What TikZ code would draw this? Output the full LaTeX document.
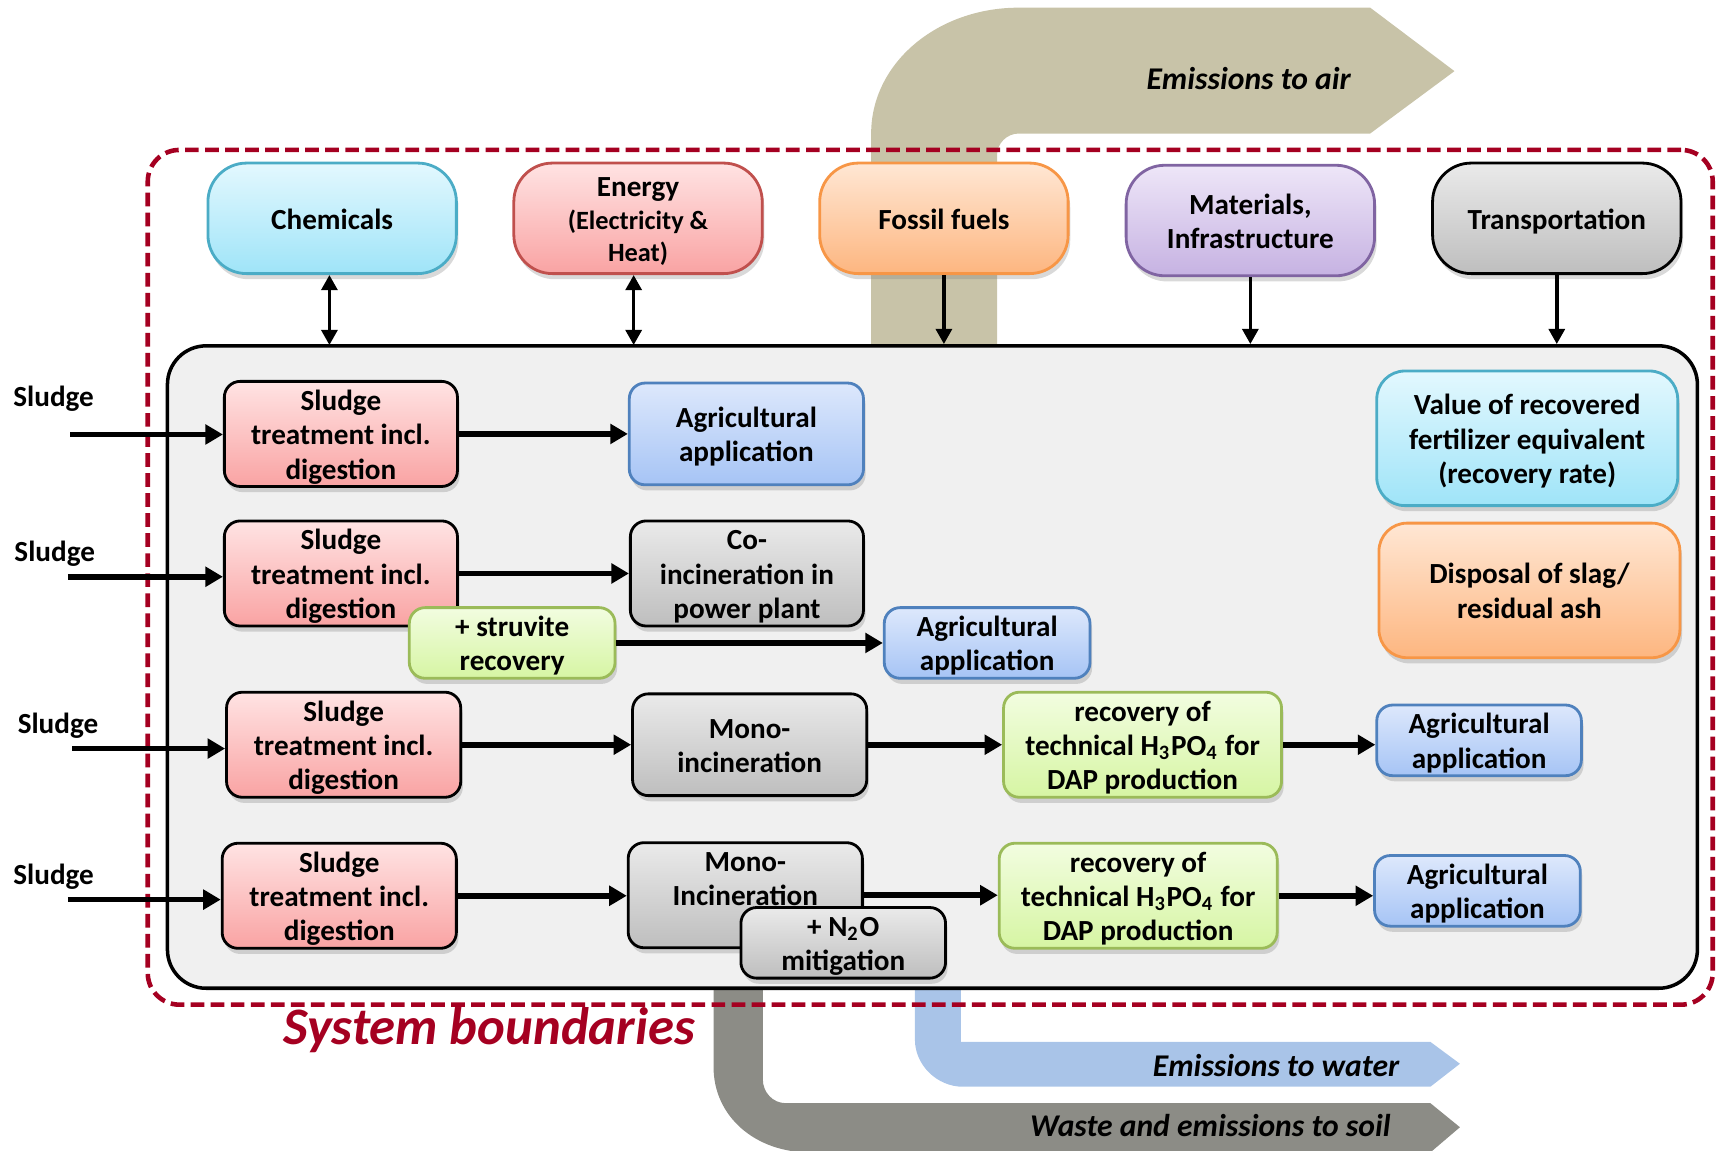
\documentclass[tikz,border=0pt]{standalone}
\usepackage{fontspec}
\setmainfont{Carlito}
\usetikzlibrary{arrows.meta,shadows}

%% line colours
\definecolor{bordred}{HTML}{A50021}
\definecolor{cyanline}{HTML}{4BACC6}
\definecolor{redline}{HTML}{C0504D}
\definecolor{orangeline}{HTML}{F79646}
\definecolor{purpleline}{HTML}{8064A2}
\definecolor{blueline}{HTML}{4F81BD}
\definecolor{greenline}{HTML}{9BBB59}
%% band colours
\definecolor{airtan}{HTML}{C8C3A8}
\definecolor{waterblue}{HTML}{A9C4E8}
\definecolor{soilgray}{HTML}{8C8C86}
%% box fills (top / bottom)
\definecolor{cyantop}{HTML}{E3F8FE}
\definecolor{cyanbot}{HTML}{9FE4F8}
\definecolor{pinktop}{HTML}{FFE3E3}
\definecolor{pinkbot}{HTML}{F9A3A3}
\definecolor{orangetop}{HTML}{FFE7D4}
\definecolor{orangebot}{HTML}{FDB680}
\definecolor{purpletop}{HTML}{EEE6F8}
\definecolor{purplebot}{HTML}{C6B2E2}
\definecolor{graytop}{HTML}{EAEAEA}
\definecolor{graybot}{HTML}{BEBEBE}
\definecolor{bluetop}{HTML}{DDE8FC}
\definecolor{bluebot}{HTML}{A6C4F5}
\definecolor{greentop}{HTML}{F2FDE0}
\definecolor{greenbot}{HTML}{D6F5A3}

\begin{document}
\begin{tikzpicture}[x=0.3114pt, y=-0.3114pt,
  font=\bfseries\fontsize{8.3}{9.8}\selectfont,
  wh/.style 2 args={minimum width=#1*0.3114pt, minimum height=#2*0.3114pt},
  nl/.style={text height=8.2pt+(#1-1)*9.8pt},
  procbox/.style={draw, line width=0.8pt, rounded corners=4.5pt, align=center, inner sep=0pt,
    text depth=2.1pt, drop shadow={opacity=0.3, shadow xshift=0.6pt, shadow yshift=-1.6pt}},
  capbox/.style={procbox, rounded corners=11pt, wh={227}{101}},
  cyanfill/.style={top color=cyantop, bottom color=cyanbot, draw=cyanline},
  pinkfill/.style={top color=pinktop, bottom color=pinkbot, draw=black},
  orangefill/.style={top color=orangetop, bottom color=orangebot, draw=orangeline},
  purplefill/.style={top color=purpletop, bottom color=purplebot, draw=purpleline},
  grayfill/.style={top color=graytop, bottom color=graybot, draw=black},
  bluefill/.style={top color=bluetop, bottom color=bluebot, draw=blueline},
  greenfill/.style={top color=greentop, bottom color=greenbot, draw=greenline},
  flow/.style={line width=1.6pt, -{Triangle[length=5pt, width=5.5pt]}},
  feed/.style={line width=1pt, -{Triangle[length=4.3pt, width=4.5pt]}},
  duo/.style={line width=1pt, {Triangle[length=4.3pt, width=4.5pt]}-{Triangle[length=4.3pt, width=4.5pt]}},
  bandtext/.style={font=\bfseries\itshape\fontsize{9}{11}\selectfont}]

  \useasboundingbox (0,0) rectangle (1568,1051);

  %% emission bands
  \fill[airtan] (796,320) -- (796,122) .. controls (796,58) and (856,7) .. (931,7)
    -- (1252,7) -- (1329,65) -- (1252,122) -- (931,122)
    .. controls (920,122) and (911,131) .. (911,142) -- (911,320) -- cycle;
  \fill[waterblue] (836,900) -- (836,950) .. controls (836,973) and (856,993) .. (880,993)
    -- (1307,993) -- (1334,972) -- (1307,952) -- (878,952) -- (878,900) -- cycle;
  \fill[soilgray] (652,900) -- (652,975) .. controls (652,1020) and (690,1053) .. (740,1053)
    -- (1307,1053) -- (1334,1030) -- (1307,1008) -- (718,1008)
    .. controls (706,1008) and (697,998) .. (697,986) -- (697,900) -- cycle;
  \node[bandtext] (air) at (1141,72) {Emissions to air};
  \node[bandtext] (water) at (1166,974) {Emissions to water};
  \node[bandtext] (soil) at (1106,1028) {Waste and emissions to soil};

  %% system boundaries
  \node[draw=bordred, line width=1.3pt, dash pattern=on 3.9pt off 1.8pt, rounded corners=9pt,
    wh={1430}{781}] (bound) at (850,527.5) {};
  \node[text=bordred, font=\bfseries\itshape\fontsize{15}{18}\selectfont] (boundlab) at (447,941)
    {System boundaries};
  \node[draw, fill=black!6, line width=1pt, rounded corners=11pt, wh={1398}{587}] (sys) at (852,609.5) {};

  %% inputs
  \node[capbox, cyanfill, nl=1] (chem) at (303.5,199.5) {Chemicals};
  \node[capbox, pinkfill, draw=redline, font=\bfseries\fontsize{8.3}{9.2}\selectfont,
    text height=26.6pt] (energy) at (583,199.5)
    {Energy\\{\fontsize{7.5}{9.2}\selectfont(Electricity \&}\\{\fontsize{7.5}{9.2}\selectfont Heat)}};
  \node[capbox, orangefill, nl=1] (fossil) at (862.5,199.5) {Fossil fuels};
  \node[capbox, purplefill, nl=2] (mater) at (1142.5,201.5) {Materials,\\Infrastructure};
  \node[capbox, grayfill, nl=1] (transp) at (1422.5,199.5) {Transportation};

  \draw[duo] (chem.south) ++(-2.5,0) -- ++(0,64);
  \draw[duo] (energy.south) ++(-4,0) -- ++(0,64);
  \draw[feed] (fossil.south) -- (fossil.south |- sys.north);
  \draw[feed] (mater.south) -- (mater.south |- sys.north);
  \draw[feed] (transp.south) -- (transp.south |- sys.north);

  %% row 1
  \node (lab1) at (49,364) {Sludge};
  \coordinate (in1) at (64,397);
  \node[procbox, pinkfill, nl=3, wh={213}{93}] (s1) at (311.5,396.5) {Sludge\\treatment incl.\\digestion};
  \node[procbox, bluefill, nl=2, wh={214}{93}] (a1) at (682,396.5) {Agricultural\\application};
  \draw[flow] (in1) -- (in1 -| s1.west);
  \draw[flow] (s1.east) -- (a1.west);

  %% row 2
  \node (lab2) at (50,506) {Sludge};
  \coordinate (in2) at (62,527);
  \node[procbox, pinkfill, nl=3, wh={213}{92}] (s2) at (311.5,524) {Sludge\\treatment incl.\\digestion};
  \node[procbox, grayfill, nl=3, wh={213}{92}] (c2) at (682.5,524) {Co-\\incineration in\\power plant};
  \node[procbox, greenfill, nl=2, wh={188}{61}] (st2) at (468,587.5) {+ struvite\\recovery};
  \node[procbox, bluefill, nl=2, wh={188}{61}] (a2) at (902,587.5) {Agricultural\\application};
  \draw[flow] (in2) -- (in2 -| s2.west);
  \draw[flow] (s2.east) -- (c2.west);
  \draw[flow] (st2.east) -- (a2.west);

  %% row 3
  \node (lab3) at (53,663) {Sludge};
  \coordinate (in3) at (66,684);
  \node[procbox, pinkfill, nl=3, wh={214}{93}] (s3) at (314,680.5) {Sludge\\treatment incl.\\digestion};
  \node[procbox, grayfill, nl=2, wh={214}{93}] (m3) at (685,680.5) {Mono-\\incineration};
  \node[procbox, greenfill, nl=3, wh={254}{93}] (r3) at (1044,680.5)
    {recovery of\\technical H\textsubscript{3}PO\textsubscript{4} for\\DAP production};
  \node[procbox, bluefill, nl=2, wh={187}{61}] (a3) at (1351.5,676.5) {Agricultural\\application};
  \draw[flow] (in3) -- (in3 -| s3.west);
  \draw[flow] (s3.east) -- (m3.west);
  \draw[flow] (m3.east) -- (r3.west);
  \draw[flow] (r3.east) -- (r3.east -| a3.west);

  %% row 4
  \node (lab4) at (49,801) {Sludge};
  \coordinate (in4) at (62,822);
  \node[procbox, pinkfill, nl=3, wh={214}{93}] (s4) at (310,818.5) {Sludge\\treatment incl.\\digestion};
  \node[procbox, grayfill, nl=3, wh={214}{92}] (m4) at (681,818) {Mono-\\Incineration\\\mbox{}};
  \node[procbox, grayfill, nl=2, wh={187}{61}] (n4) at (770.5,861.5) {+ N\textsubscript{2}O\\mitigation};
  \node[procbox, greenfill, nl=3, wh={254}{93}] (r4) at (1040,818.5)
    {recovery of\\technical H\textsubscript{3}PO\textsubscript{4} for\\DAP production};
  \node[procbox, bluefill, nl=2, wh={188}{62}] (a4) at (1350,814) {Agricultural\\application};
  \draw[flow] (in4) -- (in4 -| s4.west);
  \draw[flow] (s4.east) -- (s4.east -| m4.west);
  \draw[flow] (m4.east) -- (m4.east -| r4.west);
  \draw[flow] (r4.east) -- (r4.east -| a4.west);

  %% outcome boxes
  \node[procbox, cyanfill, nl=3, rounded corners=8pt, wh={275}{123}] (val) at (1395.5,400.5)
    {Value of recovered\\fertilizer equivalent\\(recovery rate)};
  \node[procbox, orangefill, nl=2, rounded corners=8pt, wh={275}{123}] (disp) at (1397.5,539.5)
    {Disposal of slag/\\residual ash};
\end{tikzpicture}
\end{document}
